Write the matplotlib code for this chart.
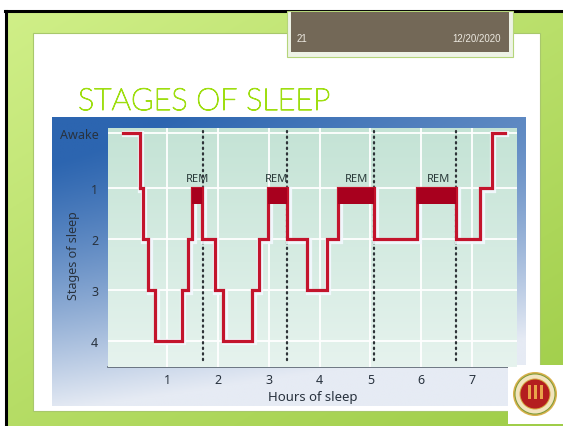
import numpy as np
import matplotlib.pyplot as plt
from matplotlib.patches import Rectangle, Circle
from matplotlib import patheffects as pe
from matplotlib.colors import to_rgb

# hypnogram: hour at which each stage starts (last entry = end of record)
change_hours = [0.14, 0.46, 0.52, 0.63, 0.77, 1.29, 1.42, 1.50, 1.69, 1.94, 2.11, 2.67,
                2.80, 2.99, 3.36, 3.75, 4.14, 4.37, 5.07, 5.92, 6.69, 7.15, 7.38, 7.64]
stages = [0, 1, 2, 3, 4, 3, 2, 1, 2, 3, 4, 3, 2, 1, 2, 3, 2, 1, 2, 1, 2, 1, 0]  # 0 = awake
rem_start = [1.50, 2.99, 4.37, 5.92]
rem_end = [1.69, 3.36, 5.07, 6.69]
rem_marks = [1.70, 3.35, 5.07, 6.69]
rem_label_x = [1.61, 3.16, 4.72, 6.33]
hour_ticks = [1, 2, 3, 4, 5, 6, 7]
stage_ticks = ['Awake', '1', '2', '3', '4']

W, H = 563, 427
AWAKE_Y = -0.1
TXT = '#28323e'
RED = '#c3142c'
TITLE_GREEN = '#9ede10'
CHART_FONT = 'Noto Sans'


def gradient(c0, c1, t):
    a, b = np.array(to_rgb(c0)), np.array(to_rgb(c1))
    t = np.clip(t, 0, 1)[..., None]
    return a * (1 - t) + b * t


fig = plt.figure(figsize=(W / 100, H / 100), dpi=100, facecolor='white')
bg = fig.add_axes([0, 0, 1, 1])
bg.set_xlim(0, W)
bg.set_ylim(H, 0)
bg.axis('off')

# green slide frame
yy, xx = np.mgrid[0:1:200j, 0:1:200j]
bg.imshow(gradient('#d0ef88', '#9fcd48', 0.55 * yy + 0.45 * xx), extent=[5, W, H, 12],
          aspect='auto', zorder=0)
bg.plot([5, W], [12, 12], color='black', lw=2.2, zorder=1)
bg.plot([6, 6], [12, H], color='black', lw=2.2, zorder=1)

# white content panel
bg.add_patch(Rectangle((33, 34), 507, 378, facecolor='white', edgecolor='#a8c86c', lw=0.8, zorder=2))

# header box
bg.add_patch(Rectangle((287, 12), 226, 46, facecolor='#eef3e6', edgecolor='#b5d57a', lw=0.8, zorder=3))
bg.add_patch(Rectangle((291, 13), 218, 40, facecolor='#736857', lw=0, zorder=4))
bg.text(297, 39, '21', fontsize=7, color='#ece8e0', va='center', family='Liberation Sans', zorder=5)
bg.text(501, 39, '12/20/2020', fontsize=7, color='#ece8e0', va='center', ha='right',
        family='Liberation Sans', zorder=5)

# title (light face, thickened slightly)
bg.text(78, 111, 'STAGES OF SLEEP', fontsize=22, color=TITLE_GREEN, va='baseline',
        family='Lato', fontweight='light', zorder=5,
        path_effects=[pe.Stroke(linewidth=0.8, foreground=TITLE_GREEN), pe.Normal()])

# chart picture background
bg.imshow(gradient('#2c65b0', '#e6ebf4', 1.05 * yy ** 1.4 + 0.35 * xx - 0.08),
          extent=[52, 526, 407, 118], aspect='auto', zorder=3)
bg.plot([108, 526], [368, 368], color='#5a6470', lw=1.2, zorder=6)

# logo
bg.add_patch(Rectangle((508, 366), 55, 59, facecolor='white', lw=0, zorder=7))
for r, c in [(22, '#d8b04a'), (20.5, '#7b9a3a'), (19.5, '#f2e4bd'), (15.5, '#d3a640'), (14.5, '#b41d1f')]:
    bg.add_patch(Circle((535, 395), r, facecolor=c, lw=0, zorder=8))
for dx in [-6, 0, 6]:
    bg.add_patch(Rectangle((535 + dx - 1.5, 386), 3, 14, facecolor='#e9a34a', lw=0, zorder=9))

# plot area
ax = fig.add_axes([108 / W, 1 - 368 / H, 409 / W, 239 / H])
x0, x1, ytop, ybot = -0.16, 7.88, -0.19, 4.52
ax.imshow(gradient('#c4e3d5', '#e6f3ee', yy), extent=[x0, x1, ybot, ytop], aspect='auto', zorder=0)
ax.set_xlim(x0, x1)
ax.set_ylim(ybot, ytop)

ax.set_xticks(hour_ticks)
ax.set_yticks([AWAKE_Y, 1, 2, 3, 4])
ax.set_yticklabels(stage_ticks)
ax.tick_params(length=0, labelsize=9, labelcolor=TXT)
ax.tick_params(axis='x', pad=4)
ax.tick_params(axis='y', pad=7)
for lab in ax.get_xticklabels() + ax.get_yticklabels():
    lab.set_family(CHART_FONT)
ax.grid(color='white', lw=1.3)
for s in ax.spines.values():
    s.set_visible(False)

ax.set_ylabel('Stages of sleep', fontsize=9, color=TXT, family=CHART_FONT)
ax.yaxis.set_label_coords(-0.068, 0.47)
ax.set_xlabel('Hours of sleep', fontsize=9.5, color=TXT, family=CHART_FONT, labelpad=3)

# dotted REM markers
dots = ax.vlines(rem_marks, ytop + 0.05, ybot - 0.05, colors='#2e3338', linestyles=(0, (0.6, 1.9)),
                 lw=1.6, zorder=2)
dots.set_capstyle('round')

# hypnogram
ys = [AWAKE_Y if s == 0 else s for s in stages]
ax.step(change_hours, ys + [ys[-1]], where='post', color=RED, lw=2.3, zorder=4,
        solid_joinstyle='miter',
        path_effects=[pe.Stroke(linewidth=4.5, foreground='#f4f9ff', offset=(1.2, -1.2), alpha=0.9),
                      pe.Normal()])
for s, e in zip(rem_start, rem_end):
    ax.fill_between([s, e], 1, 1.3, color='#a8001e', lw=0, zorder=5)

for xl in rem_label_x:
    ax.text(xl, 0.8, 'REM', ha='center', va='center', fontsize=8, color='#2a3a3a',
            family=CHART_FONT, zorder=6)

fig.savefig('out.png', dpi=100)
